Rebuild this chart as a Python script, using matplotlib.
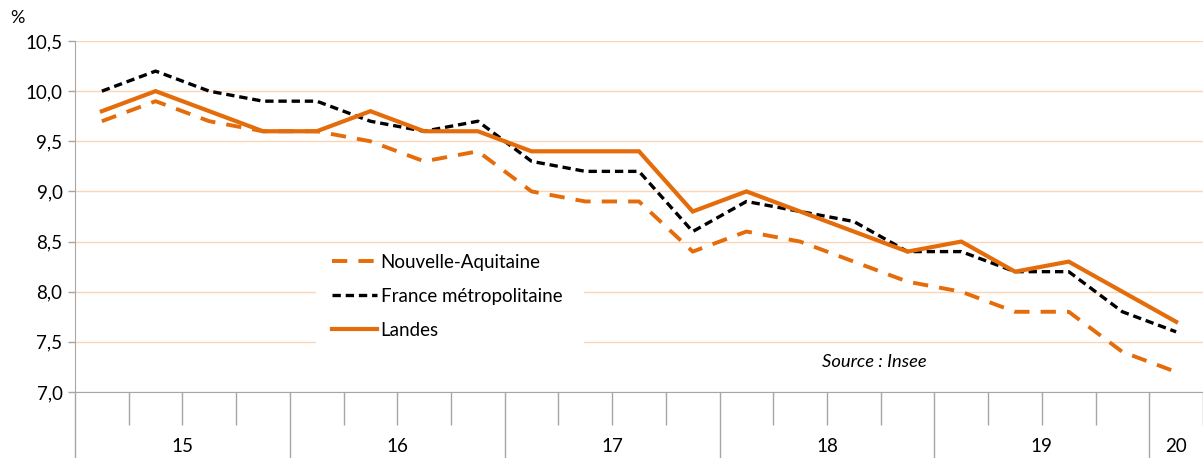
"""
    Taux de chomage trimestriel : Landes, Nouvelle-Aquitaine, France
"""

import matplotlib
matplotlib.use('Agg')
import matplotlib.pyplot as plt
import matplotlib.transforms as mtransforms
from matplotlib.patches import Rectangle

plt.rcParams['font.family'] = ['Lato', 'DejaVu Sans']
plt.rcParams['lines.scale_dashes'] = False

# quarters 2015 T1 .. 2020 T1
quarters = list(range(21))
years = ['15', '16', '17', '18', '19', '20']
year_centers = [1.5, 5.5, 9.5, 13.5, 17.5, 20]
year_bounds = [-0.5, 3.5, 7.5, 11.5, 15.5, 19.5]

nouvelle_aquitaine = [9.7, 9.9, 9.7, 9.6, 9.6, 9.5, 9.3, 9.4, 9.0, 8.9, 8.9,
                      8.4, 8.6, 8.5, 8.3, 8.1, 8.0, 7.8, 7.8, 7.4, 7.2]
france = [10.0, 10.2, 10.0, 9.9, 9.9, 9.7, 9.6, 9.7, 9.3, 9.2, 9.2,
          8.6, 8.9, 8.8, 8.7, 8.4, 8.4, 8.2, 8.2, 7.8, 7.6]
landes = [9.8, 10.0, 9.8, 9.6, 9.6, 9.8, 9.6, 9.6, 9.4, 9.4, 9.4,
          8.8, 9.0, 8.8, 8.6, 8.4, 8.5, 8.2, 8.3, 8.0, 7.7]
yticks = [7.0, 7.5, 8.0, 8.5, 9.0, 9.5, 10.0, 10.5]

ORANGE = '#E46C0A'
GRID = '#FBD5B5'
AXIS = '#A6A6A6'

W, H = 1203, 458
fig = plt.figure(figsize=(W / 100, H / 100), dpi=100)
ax = fig.add_axes([75 / W, (H - 392) / H, 1128 / W, 351 / H])

# white box behind the legend (cuts the gridlines)
ax.add_patch(Rectangle((316 / W, 1 - 345 / H), 268 / W, 100 / H,
                       transform=fig.transFigure, facecolor='white',
                       edgecolor='none', zorder=1))

ax.plot(quarters, nouvelle_aquitaine, color=ORANGE, lw=2.8,
        dashes=(11, 8), label='Nouvelle-Aquitaine', zorder=3)
ax.plot(quarters, france, color='black', lw=2.4,
        dashes=(6, 3.5), label='France métropolitaine', zorder=3)
ax.plot(quarters, landes, color=ORANGE, lw=3, label='Landes',
        solid_joinstyle='miter', zorder=4)

ax.set_xlim(-0.5, 20.39)
ax.set_ylim(7.0, 10.5)
ax.set_yticks(yticks)
ax.set_yticklabels([('%.1f' % v).replace('.', ',') for v in yticks],
                   fontsize=13.5)
ax.yaxis.grid(True, color=GRID, lw=1)
ax.set_axisbelow(True)

ax.set_xticks(year_bounds)
ax.set_xticks([q + 0.5 for q in quarters if (q + 0.5) not in year_bounds],
              minor=True)
ax.set_xticklabels([])
ax.tick_params(axis='x', which='major', length=47.5, color=AXIS, width=1)
ax.tick_params(axis='x', which='minor', length=23.8, color=AXIS, width=1)
ax.tick_params(axis='y', length=5, color=AXIS, width=1, pad=4)

for side in ['top', 'right']:
    ax.spines[side].set_visible(False)
for side in ['left', 'bottom']:
    ax.spines[side].set_color(AXIS)

trans = mtransforms.blended_transform_factory(ax.transData, fig.transFigure)
for yr, xc in zip(years, year_centers):
    ax.text(xc, 1 - 447 / H, yr, transform=trans, ha='center',
            va='center', fontsize=13.5)

fig.text(17 / W, 1 - 18 / H, '%', ha='center', va='center', fontsize=13)
fig.text(874 / W, 1 - 362 / H, 'Source : Insee', ha='center',
         va='center', fontsize=13.2, style='italic')

ax.legend(loc='upper left', bbox_to_anchor=(332 / W, 1 - 254 / H),
          bbox_transform=fig.transFigure, frameon=False, fontsize=13.5,
          handlelength=2.4, handletextpad=0.2, labelspacing=0.9,
          borderpad=0, borderaxespad=0)

fig.savefig('out.png', dpi=100)
